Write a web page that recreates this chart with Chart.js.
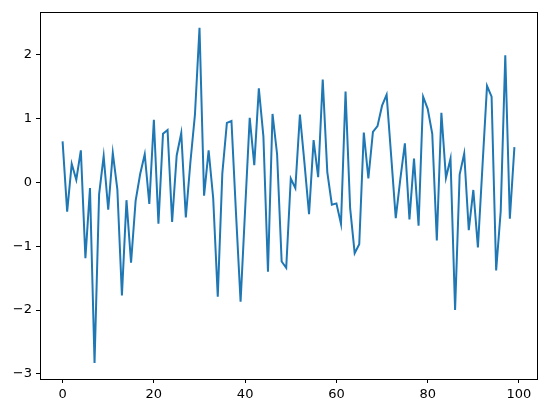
<!DOCTYPE html>
<html>
<head>
<meta charset="utf-8">
<script src="https://cdn.jsdelivr.net/npm/chart.js@4/dist/chart.umd.min.js"></script>
<style>
  html, body { margin: 0; padding: 0; background: #fff; }
  canvas { display: block; }
</style>
</head>
<body>
<canvas id="c" width="546" height="413"></canvas>
<script>
const xValues = Array.from({length: 100}, (_, i) => i);
const yValues = [
  0.64, -0.46, 0.29, 0.04, 0.50, -1.19, -0.09, -2.83, -0.19, 0.41,
  -0.43, 0.46, -0.11, -1.77, -0.28, -1.26, -0.29, 0.13, 0.44, -0.34,
  0.98, -0.65, 0.76, 0.82, -0.62, 0.42, 0.77, -0.55, 0.31, 1.06,
  2.42, -0.21, 0.50, -0.25, -1.79, 0.14, 0.93, 0.96, -0.49, -1.87,
  -0.42, 1.01, 0.27, 1.47, 0.72, -1.40, 1.07, 0.44, -1.24, -1.34,
  0.06, -0.09, 1.06, 0.30, -0.50, 0.66, 0.08, 1.61, 0.16, -0.35,
  -0.33, -0.65, 1.42, -0.40, -1.11, -0.97, 0.78, 0.06, 0.79, 0.88,
  1.20, 1.37, 0.41, -0.56, 0.05, 0.61, -0.58, 0.37, -0.68, 1.34,
  1.15, 0.76, -0.91, 1.09, 0.07, 0.37, -2.00, 0.12, 0.45, -0.75,
  -0.12, -1.02, 0.25, 1.51, 1.34, -1.38, -0.45, 1.99, -0.57, 0.55
];
const xTicks = [0, 20, 40, 60, 80, 100];
const yTicks = [-3, -2, -1, 0, 1, 2];

const fmt = v => (v < 0 ? '\u2212' + Math.abs(v) : String(v));

const frame = {
  id: 'frame',
  afterDraw(chart) {
    const a = chart.chartArea, ctx = chart.ctx;
    ctx.save();
    ctx.strokeStyle = '#000';
    ctx.lineWidth = 1;
    ctx.strokeRect(Math.round(a.left) + 0.5, Math.round(a.top) + 0.5,
                   Math.round(a.right - a.left), Math.round(a.bottom - a.top));
    ctx.restore();
  }
};

new Chart(document.getElementById('c'), {
  type: 'line',
  data: {
    datasets: [{
      data: xValues.map((x, i) => ({x: x, y: yValues[i]})),
      borderColor: '#1f77b4',
      borderWidth: 2,
      pointRadius: 0,
      tension: 0,
      fill: false
    }]
  },
  options: {
    responsive: false,
    animation: false,
    layout: { padding: { left: 0, top: 10, right: 9, bottom: 0 } },
    plugins: { legend: { display: false }, tooltip: { enabled: false } },
    scales: {
      x: {
        type: 'linear',
        min: -4.95, max: 103.95,
        afterBuildTicks: s => { s.ticks = xTicks.map(v => ({value: v})); },
        afterFit: s => { s.height = 34; },
        grid: { drawOnChartArea: false, drawTicks: true, tickLength: 4, color: '#000' },
        border: { display: false },
        ticks: { color: '#000', padding: 4, maxRotation: 0, callback: v => fmt(v),
                 font: { family: 'DejaVu Sans', size: 13 } }
      },
      y: {
        type: 'linear',
        min: -3.08, max: 2.67,
        afterBuildTicks: s => { s.ticks = yTicks.map(v => ({value: v})); },
        afterFit: s => { s.width = 40; },
        grid: { drawOnChartArea: false, drawTicks: true, tickLength: 4, color: '#000' },
        border: { display: false },
        ticks: { color: '#000', padding: 4, callback: v => fmt(v),
                 font: { family: 'DejaVu Sans', size: 13 } }
      }
    }
  },
  plugins: [frame]
});
</script>
</body>
</html>
